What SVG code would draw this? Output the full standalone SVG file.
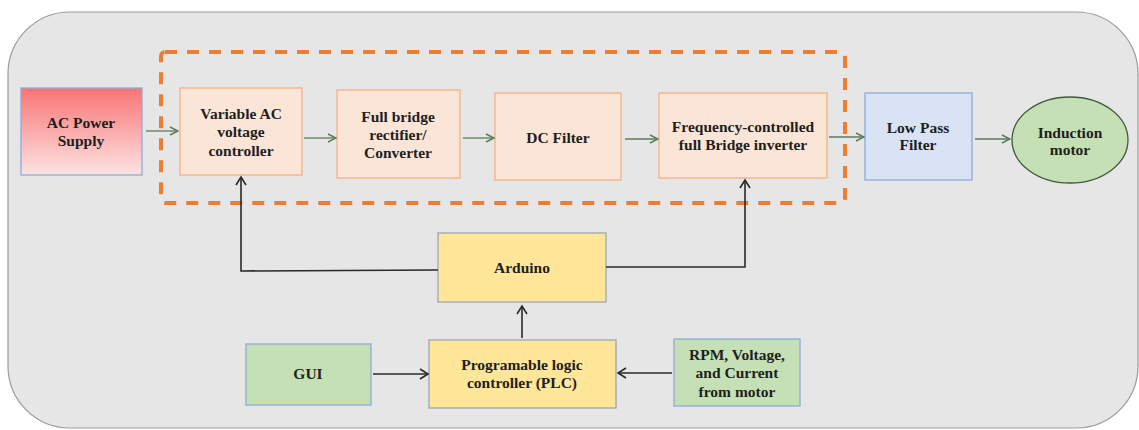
<svg xmlns="http://www.w3.org/2000/svg" width="1139" height="430" viewBox="0 0 1139 430" font-family="'Liberation Serif', 'DejaVu Serif', serif">
  <defs>
    <linearGradient id="acGrad" x1="0" y1="0" x2="0" y2="1">
      <stop offset="0" stop-color="#f87474"/>
      <stop offset="1" stop-color="#fde3e3"/>
    </linearGradient>
    <marker id="arrGreen" markerWidth="10" markerHeight="10" refX="9" refY="5" orient="auto" markerUnits="userSpaceOnUse">
      <path d="M1,1 L9,5 L1,9" fill="none" stroke="#5b7a5b" stroke-width="1.4"/>
    </marker>
    <marker id="arrDark" markerWidth="12" markerHeight="12" refX="10" refY="6" orient="auto" markerUnits="userSpaceOnUse">
      <path d="M2,1 L10,6 L2,11" fill="none" stroke="#2a2a2a" stroke-width="1.6"/>
    </marker>
  </defs>
  <style>
    text { font-family: "Liberation Serif", "DejaVu Serif", serif; font-weight: bold; font-size: 15.5px; fill: #1e1e1e; text-anchor: middle; }
    .stage { fill: #fbe5d6; stroke: #f4b183; stroke-width: 1.3; }
    .blue { fill: #dae3f3; stroke: #8faadc; stroke-width: 1.3; }
    .yellow { fill: #ffe699; stroke: #9aa7b4; stroke-width: 1.3; }
    .green { fill: #c5e0b4; stroke: #8faadc; stroke-width: 1.3; }
    .flow { fill: none; stroke: #5b7a5b; stroke-width: 1.3; marker-end: url(#arrGreen); }
    .ctrl { fill: none; stroke: #2a2a2a; stroke-width: 1.6; }
  </style>

  <!-- panel background -->
  <rect x="8" y="12" width="1130" height="416" rx="62" ry="62" fill="#e6e6e6" stroke="#9a9a9a" stroke-width="1.2"/>

  <!-- power conversion stage boundary -->
  <rect x="161" y="52" width="684" height="151" rx="4" fill="none" stroke="#ed7d31" stroke-width="4" stroke-dasharray="12 10"/>

  <g id="ac-supply">
    <rect x="21" y="88" width="121" height="87" fill="url(#acGrad)" stroke="#8faadc" stroke-width="1.3"/>
    <text x="81" y="128">AC Power</text>
    <text x="81" y="146">Supply</text>
  </g>

  <g id="ac-controller">
    <rect class="stage" x="180" y="88" width="122" height="87"/>
    <text x="241" y="119">Variable AC</text>
    <text x="241" y="137">voltage</text>
    <text x="241" y="156">controller</text>
  </g>

  <g id="rectifier">
    <rect class="stage" x="337" y="90" width="123" height="88"/>
    <text x="398" y="122">Full bridge</text>
    <text x="398" y="140">rectifier/</text>
    <text x="398" y="158">Converter</text>
  </g>

  <g id="dc-filter">
    <rect class="stage" x="495" y="93" width="126" height="87"/>
    <text x="558" y="143">DC Filter</text>
  </g>

  <g id="inverter">
    <rect class="stage" x="659" y="93" width="168" height="85"/>
    <text x="743" y="132">Frequency-controlled</text>
    <text x="743" y="150">full Bridge inverter</text>
  </g>

  <g id="low-pass">
    <rect class="blue" x="865" y="93" width="107" height="87"/>
    <text x="918" y="133">Low Pass</text>
    <text x="918" y="150">Filter</text>
  </g>

  <g id="motor">
    <ellipse cx="1070" cy="140" rx="58" ry="43" fill="#c5e0b4" stroke="#3e5a3e" stroke-width="1.3"/>
    <text x="1070" y="138">Induction</text>
    <text x="1070" y="155">motor</text>
  </g>

  <g id="arduino">
    <rect class="yellow" x="438" y="233" width="168" height="69"/>
    <text x="522" y="273">Arduino</text>
  </g>

  <g id="plc">
    <rect class="yellow" x="429" y="340" width="187" height="68"/>
    <text x="522" y="370">Programable logic</text>
    <text x="522" y="388">controller (PLC)</text>
  </g>

  <g id="gui">
    <rect class="green" x="246" y="344" width="125" height="61"/>
    <text x="308" y="379">GUI</text>
  </g>

  <g id="feedback">
    <rect class="green" x="674" y="339" width="126" height="67"/>
    <text x="737" y="360">RPM, Voltage,</text>
    <text x="737" y="378">and Current</text>
    <text x="737" y="397">from motor</text>
  </g>

  <g id="connectors">
    <!-- power path -->
    <line class="flow" x1="146" y1="131" x2="178" y2="131"/>
    <line class="flow" x1="304" y1="138" x2="336" y2="138"/>
    <line class="flow" x1="463" y1="138" x2="494" y2="138"/>
    <line class="flow" x1="625" y1="139" x2="658" y2="139"/>
    <line class="flow" x1="829" y1="137" x2="864" y2="137"/>
    <line class="flow" x1="975" y1="139" x2="1010" y2="139"/>
    <!-- control path -->
    <polyline class="ctrl" points="438,270 241,271 241,177" marker-end="url(#arrDark)"/>
    <polyline class="ctrl" points="606,267 745,267 745,180" marker-end="url(#arrDark)"/>
    <line class="ctrl" x1="522" y1="338" x2="522" y2="306" marker-end="url(#arrDark)"/>
    <line class="ctrl" x1="373" y1="374" x2="428" y2="374" marker-end="url(#arrDark)"/>
    <line class="ctrl" x1="672" y1="373" x2="618" y2="373" marker-end="url(#arrDark)"/>
  </g>
</svg>
